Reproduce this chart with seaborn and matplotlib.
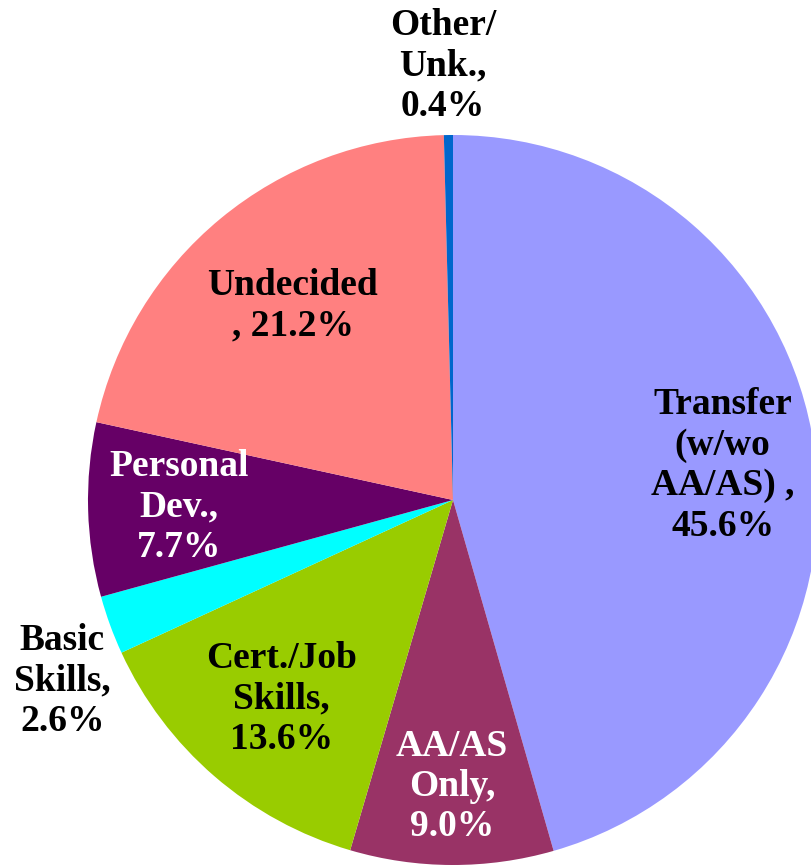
"""
Student educational goal breakdown, pie chart.
"""
import numpy as np
import matplotlib.pyplot as plt
import seaborn as sns

GOALS = ["Transfer\n(w/wo\nAA/AS) ,", "AA/AS\nOnly,", "Cert./Job\nSkills,",
         "Basic\nSkills,", "Personal\nDev.,", "Undecided\n,", "Other/\nUnk.,"]
SHARES = [45.6, 9.0, 13.6, 2.6, 7.7, 21.2, 0.4]
COLORS = ["#9999FF", "#993366", "#99CC00", "#00FFFF", "#660066", "#FF8080", "#0066CC"]
TEXT_COLORS = ["black", "white", "black", "black", "white", "black", "black"]
# label placement: distance from centre (in radii) and small angle nudge (deg)
LABEL_DIST = [0.745, 0.785, 0.72, 1.18, 0.75, 0.69, 1.19]
LABEL_NUDGE = [-0.7, 0.0, 0.0, 4.8, 0.0, 0.0, 0.6]

sns.set_theme(style="white")
plt.rcParams["font.family"] = ["Liberation Serif", "DejaVu Serif"]

W, H = 811, 865
R = 365.0
CX, CY = 453, 500

fig = plt.figure(figsize=(W / 100, H / 100), dpi=100)
ax = fig.add_axes([0, 0, 1, 1])

wedges, _ = ax.pie(SHARES, colors=sns.color_palette(COLORS), startangle=90,
                   counterclock=False, radius=1.0,
                   wedgeprops=dict(linewidth=0))

for w, goal, share, tc, dist, nudge in zip(wedges, GOALS, SHARES, TEXT_COLORS,
                                           LABEL_DIST, LABEL_NUDGE):
    mid = np.deg2rad((w.theta1 + w.theta2) / 2 + nudge)
    x, y = dist * np.cos(mid), dist * np.sin(mid)
    if goal.endswith("\n,"):
        label = f"{goal[:-2]}\n, {share:.1f}%"
    else:
        label = f"{goal}\n{share:.1f}%"
    ax.text(x, y, label, ha="center", va="center", color=tc,
            fontsize=27, fontweight="bold", linespacing=1.2)

ax.set_aspect("auto")
ax.set_xlim(-CX / R, (W - CX) / R)
ax.set_ylim(-(H - CY) / R, CY / R)
ax.axis("off")

fig.savefig("out.png", dpi=100)
plt.close()
